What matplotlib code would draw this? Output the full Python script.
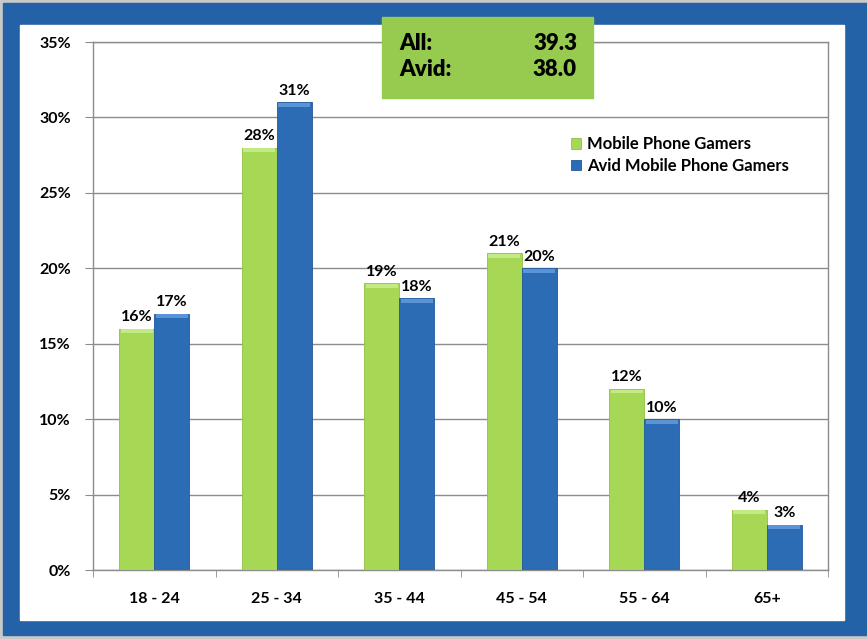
import numpy as np
import matplotlib.pyplot as plt
from matplotlib.patches import Rectangle

categories = ["18 - 24", "25 - 34", "35 - 44", "45 - 54", "55 - 64", "65+"]
mobile = [16, 28, 19, 21, 12, 4]
avid = [17, 31, 18, 20, 10, 3]
series_names = ["Mobile Phone Gamers", "Avid Mobile Phone Gamers"]
box_labels = ["All:", "Avid:"]
box_values = ["39.3", "38.0"]

GREEN = "#a6d856"
BLUE = "#2b6cb4"
FRAME = "#2462a8"

plt.rcParams['font.family'] = ['Lato', 'DejaVu Sans']

fig = plt.figure(figsize=(8.67, 6.39), dpi=100)
fig.patch.set_facecolor("#c9c9c9")

# blue frame and white panel (figure pixels -> fractions)
W, H = 867.0, 639.0
fig.patches.append(Rectangle((3 / W, 1 - 635 / H), 864 / W, 632 / H,
                             transform=fig.transFigure, color=FRAME, zorder=-2))
fig.patches.append(Rectangle((20 / W, 1 - 620 / H), 824 / W, 595 / H,
                             transform=fig.transFigure, color="white", zorder=-1))

ax = fig.add_axes([93 / W, 1 - 570 / H, 735 / W, 528 / H])
ax.set_zorder(2)
ax.set_facecolor("none")

x = np.arange(len(categories))
w = 0.285
b1 = ax.bar(x - w / 2, mobile, w, color=GREEN, edgecolor="#8fc040", linewidth=0.6,
            label=series_names[0], zorder=3)
b2 = ax.bar(x + w / 2, avid, w, color=BLUE, edgecolor="#1f5a9e", linewidth=0.6,
            label=series_names[1], zorder=3)

# light strip along the top of each bar (bevel look)
for bars, col in ((b1, "#c4ea86"), (b2, "#5a93d6")):
    for r in bars:
        ax.bar(r.get_x() + r.get_width() / 2, 0.25, r.get_width() * 0.92,
               bottom=r.get_height() - 0.3, color=col, linewidth=0, zorder=4)

for bars, vals in ((b1, mobile), (b2, avid)):
    for r, v in zip(bars, vals):
        ax.text(r.get_x() + r.get_width() / 2, v + 0.3, "%d%%" % v,
                ha="center", va="bottom", fontsize=11.5, fontweight="bold")

ax.set_xlim(-0.5, len(categories) - 0.5)
ax.set_ylim(0, 35)
ax.set_yticks(np.arange(0, 36, 5))
ax.set_yticklabels(["%d%%" % t for t in range(0, 36, 5)], fontsize=11.5, fontweight="bold")
ax.yaxis.grid(True, color="#8c8c8c", linewidth=1.0, zorder=0)
ax.set_axisbelow(True)

ax.set_xticks(x)
ax.set_xticklabels(categories, fontsize=11.5, fontweight="bold")
ax.set_xticks(np.arange(-0.5, len(categories), 1), minor=True)
ax.tick_params(axis="x", which="major", length=0, pad=16)
ax.tick_params(axis="x", which="minor", length=5, color="#8c8c8c", direction="out")
ax.tick_params(axis="y", length=6, color="#8c8c8c", pad=10)

for s in ax.spines.values():
    s.set_color("#8c8c8c")
    s.set_linewidth(1.0)

leg = ax.legend(loc="upper left", bbox_to_anchor=(0.63, 0.85), frameon=False,
                handlelength=0.6, handleheight=0.6, handletextpad=0.35,
                labelspacing=0.35, prop={"weight": "bold", "size": 12})

# summary box
fig.patches.append(Rectangle((382 / W, 1 - 98 / H), 211 / W, 81 / H,
                             transform=fig.transFigure, color="#96cb50", zorder=5))
for i, (lab, val) in enumerate(zip(box_labels, box_values)):
    yy = 1 - (43 + i * 27) / H
    fig.text(399 / W, yy, lab, fontsize=16, fontweight="heavy", va="center", zorder=6)
    fig.text(577 / W, yy, val, fontsize=16, fontweight="heavy", va="center",
             ha="right", zorder=6)

fig.savefig("out.png", dpi=100, facecolor=fig.get_facecolor())
